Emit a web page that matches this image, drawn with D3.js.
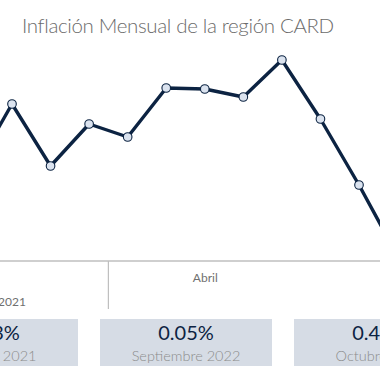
<!DOCTYPE html>
<html><head><meta charset="utf-8">
<script src="https://cdn.jsdelivr.net/npm/d3@7"></script>
<style>html,body{margin:0;padding:0;background:#fff;overflow:hidden}svg{display:block}</style>
</head><body>
<svg id="c" width="380" height="380"></svg>
<script>
// --- data ---
const categories = ["Oct 2021","Nov 2021","Dic 2021","Ene 2022","Feb 2022","Mar 2022","Abril 2022","May 2022","Jun 2022","Jul 2022","Ago 2022","Sep 2022"];
const categoryIndex = [-1,0,1,2,3,4,5,6,7,8,9,10];
const inflation = [0.47,0.81,0.50,0.71,0.645,0.89,0.885,0.845,1.03,0.735,0.405,0.05];
const monthTickIndex = [5];
const monthTickLabels = ["Abril"];
const yearLabels = ["2021"];
const yearLabelIndex = [0];
const yearBoundaryIndex = [2.5];
const cardValues = ["0.53%","0.05%","0.41%"];
const cardLabels = ["Octubre 2021","Septiembre 2022","Octubre 2022"];
const title = "Inflación Mensual de la región CARD";

const svg = d3.select("#c");
const font = "Lato, 'Noto Sans', sans-serif";

const x = d3.scaleLinear().domain([0,9]).range([12,359]);
const y = d3.scaleLinear().domain([0,1.2]).range([266,26]);
const axisY = 261;

// title
svg.append("text").attr("x",22).attr("y",33)
  .attr("font-family",font).attr("font-weight",300).attr("font-size",20.5)
  .attr("letter-spacing",-0.35)
  .attr("fill","#6b6b6b").text(title);

// line
const pts = categoryIndex.map((c,i)=>({c,v:inflation[i]}));
svg.append("path").datum(pts)
  .attr("fill","none").attr("stroke","#0c2342").attr("stroke-width",3.4)
  .attr("stroke-linejoin","round")
  .attr("d",d3.line().x(d=>x(d.c)).y(d=>y(d.v)));
svg.selectAll("circle.pt").data(pts).join("circle").attr("class","pt")
  .attr("cx",d=>x(d.c)).attr("cy",d=>y(d.v)).attr("r",4.3)
  .attr("fill","#dbe3ef").attr("stroke","#0c2342").attr("stroke-width",1.1);

// axis
const ax = svg.append("g").attr("transform",`translate(0,${axisY})`);
ax.call(d3.axisBottom(x).tickValues(monthTickIndex).tickFormat((d,i)=>monthTickLabels[i]).tickSize(0).tickPadding(12));
ax.select(".domain").attr("d","M0,0H380").attr("stroke","#bfbfbf").attr("stroke-width",1.5);
ax.selectAll("text").attr("font-family",font).attr("font-size",12).attr("fill","#707070");
ax.selectAll("line.div").data(yearBoundaryIndex).join("line").attr("class","div")
  .attr("x1",d=>x(d)).attr("x2",d=>x(d)).attr("y1",0).attr("y2",48)
  .attr("stroke","#bfbfbf").attr("stroke-width",1.2);
ax.selectAll("text.yr").data(yearLabels).join("text").attr("class","yr")
  .attr("x",(d,i)=>x(yearLabelIndex[i])).attr("y",45).attr("text-anchor","middle")
  .attr("font-family",font).attr("font-size",12).attr("fill","#707070").text(d=>d);

// cards
const cardX = d3.scalePoint().domain(d3.range(cardValues.length)).range([-8,380]);
const cg = svg.selectAll("g.card").data(cardValues).join("g").attr("class","card")
  .attr("transform",(d,i)=>`translate(${cardX(i)},319)`);
cg.append("rect").attr("x",-86).attr("y",0).attr("width",172).attr("height",47).attr("fill","#d6dce5");
cg.append("text").attr("x",0).attr("y",20.5).attr("text-anchor","middle")
  .attr("font-family",font).attr("font-size",20).attr("fill","#0c2342").text(d=>d);
cg.append("text").attr("x",0).attr("y",42).attr("text-anchor","middle")
  .attr("font-family",font).attr("font-weight",300).attr("font-size",14.5).attr("fill","#8c8c8c").text((d,i)=>cardLabels[i]);
</script>
</body></html>
